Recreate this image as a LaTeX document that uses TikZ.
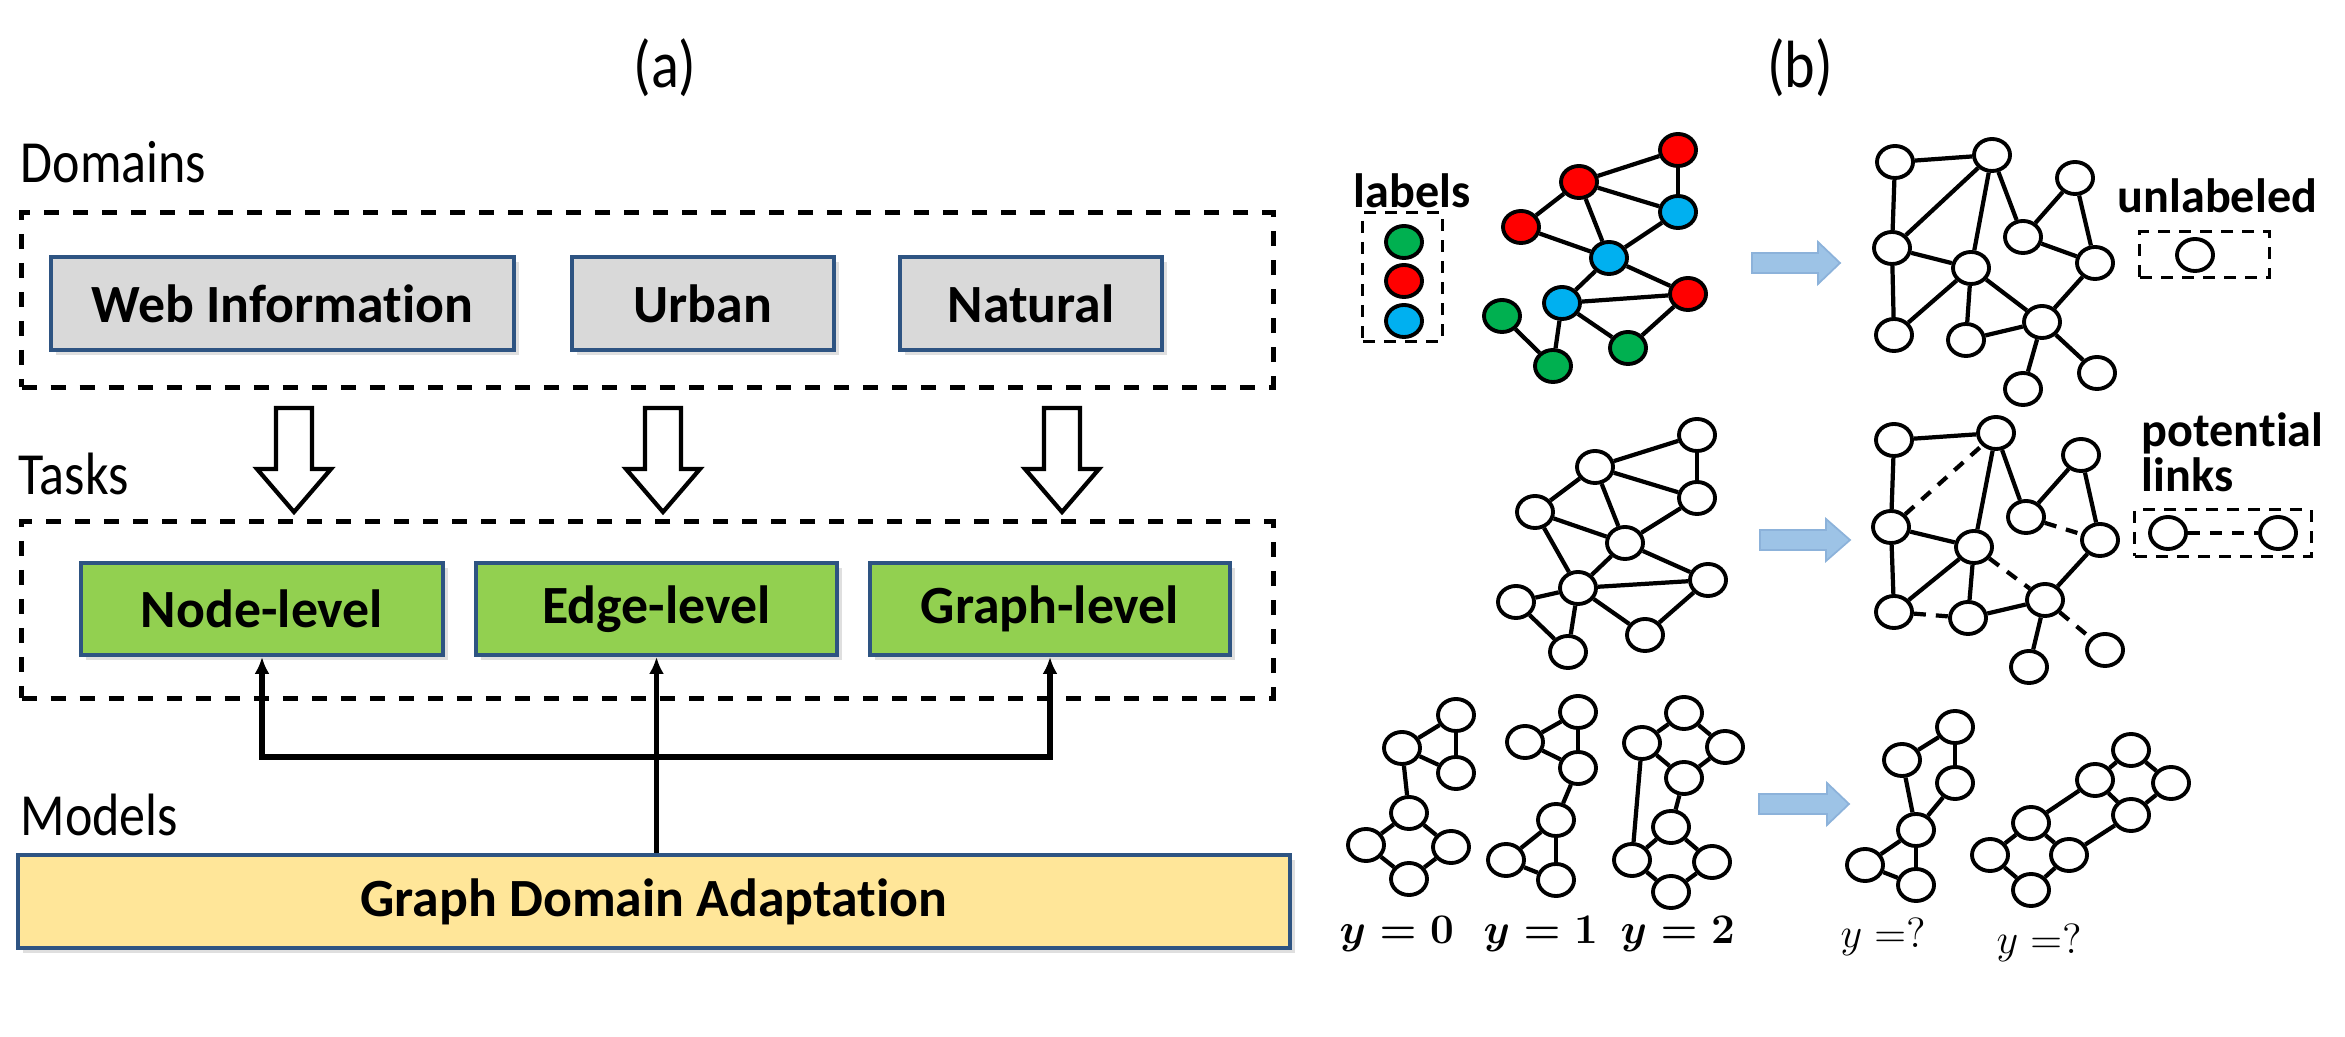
\documentclass[tikz,border=0pt]{standalone}
\usepackage[no-math]{fontspec}
\setmainfont{Carlito}[Ligatures=NoCommon]
\newfontfamily\headfont{Carlito}[FakeStretch=0.87, Ligatures=NoCommon]
\usepackage{amsmath}
\usepackage{xcolor}
\usetikzlibrary{arrows.meta}
\usetikzlibrary{calc}
\usetikzlibrary{positioning}
\usetikzlibrary{shapes.geometric}
\usetikzlibrary{shadows}

\definecolor{boxblue}{RGB}{46,84,130}
\definecolor{boxgray}{RGB}{217,217,217}
\definecolor{boxgreen}{RGB}{146,208,80}
\definecolor{boxyellow}{RGB}{255,230,153}
\definecolor{gred}{RGB}{255,0,0}
\definecolor{gblue}{RGB}{0,176,240}
\definecolor{ggreen}{RGB}{0,176,80}
\definecolor{flowblue}{RGB}{157,195,230}
\definecolor{flowedge}{RGB}{140,178,218}

\tikzset{
  panel/.style={inner sep=0pt, font=\headfont\fontsize{19}{22}\selectfont},
  heading/.style={anchor=base west, inner sep=0pt, font=\headfont\fontsize{17}{20}\selectfont},
  tag/.style={anchor=base west, inner sep=0pt, font=\bfseries\fontsize{13.7}{16}\selectfont},
  ylab/.style={anchor=base west, inner sep=0pt, font=\fontsize{12.5}{14}\selectfont},
  block/.style={draw=boxblue, line width=1.1pt, minimum height=0.93cm, inner sep=0pt,
    font=\bfseries\fontsize{15.3}{18}\selectfont,
    drop shadow={opacity=0.25, shadow xshift=0.05cm, shadow yshift=-0.05cm}},
  frame/.style={draw, line width=1.4pt, dash pattern=on 0.15cm off 0.14cm, inner sep=0pt},
  legend/.style={draw, line width=0.85pt, dash pattern=on 0.12cm off 0.09cm, inner sep=0pt},
  hollow/.style={draw, line width=1.2pt, fill=white, line join=miter},
  link/.style={line width=1.7pt, {Latex[length=0.17cm,width=0.15cm]}-{Latex[length=0.17cm,width=0.15cm]}},
  vert/.style={ellipse, draw, line width=1.1pt, minimum width=0.36cm, minimum height=0.32cm, inner sep=0pt, fill=white},
  gedge/.style={line width=1.2pt},
  guess/.style={line width=1.2pt, dash pattern=on 0.12cm off 0.1cm},
  flow/.style={fill=flowblue, draw=flowedge, line width=0.5pt}
}

\begin{document}
\begin{tikzpicture}[x=0.01cm, y=-0.01cm]
  \useasboundingbox (0,0) rectangle (2345,1037);

  % ---------- (a) ----------
  \node[panel] (pa) at (665,68) {(a)};
  \node[heading] (domlbl) at (20,183) {Domains};
  \node[heading] (tasklbl) at (18,495) {Tasks};
  \node[heading] (modlbl) at (20,836) {Models};

  \node[frame, minimum width=12.51cm, minimum height=1.74cm] (domains) at (647.5,300) {};
  \node[frame, minimum width=12.51cm, minimum height=1.76cm] (tasks) at (647.5,610) {};

  \node[block, fill=boxgray, minimum width=4.63cm] (web) at (282.5,303.5) {Web Information};
  \node[block, fill=boxgray, minimum width=2.62cm] (urban) at (703,303.5) {Urban};
  \node[block, fill=boxgray, minimum width=2.62cm] (natural) at (1031,303.5) {Natural};

  \node[block, fill=boxgreen, minimum width=3.62cm, minimum height=0.92cm] (nodelvl) at (262,609) {Node-level};
  \node[block, fill=boxgreen, minimum width=3.61cm, minimum height=0.92cm] (edgelvl) at (656.5,609) {Edge-level};
  \node[block, fill=boxgreen, minimum width=3.60cm, minimum height=0.92cm] (graphlvl) at (1050,609) {Graph-level};

  \node[block, fill=boxyellow, minimum width=12.72cm] (gda) at (654,901.5) {Graph Domain Adaptation};

  % hollow arrows domains -> tasks
  \foreach \x in {294,663,1062}
    \draw[hollow] (\x-18,408) -- (\x+18,408) -- (\x+18,469) -- (\x+37,469)
      -- (\x,512) -- (\x-37,469) -- (\x-18,469) -- cycle;

  \coordinate (split) at (656.5,757);
  \draw[link, {Latex[length=0.17cm,width=0.15cm]}-] (edgelvl.south) -- (gda.north -| edgelvl.south);
  \draw[link] (nodelvl.south) -- (split -| nodelvl.south) -- (split -| graphlvl.south) -- (graphlvl.south);

  % ---------- (b) ----------
  \node[panel] (pb) at (1800,68) {(b)};

  % labelled source graph
  \node[tag] (lbl) at (1353,208) {labels};
  \node[legend, minimum width=0.79cm, minimum height=1.28cm] (lblbox) at (1402.5,277) {};
  \foreach \n/\ypos/\col in {kg/242/ggreen, kr/281/gred, kb/321/gblue}
    \node[vert, fill=\col] (\n) at (1404,\ypos) {};

  \foreach \n/\xpos/\ypos/\col in {s1/1678/150/gred, s2/1579/182/gred, s3/1678/212/gblue,
      s4/1521/227/gred, s5/1609/258/gblue, s6/1688/294/gred, s7/1562/303/gblue,
      s8/1502/316/ggreen, s9/1628/348/ggreen, s10/1553/366/ggreen}
    \node[vert, fill=\col] (\n) at (\xpos,\ypos) {};
  \foreach \u/\v in {s1/s2, s1/s3, s2/s3, s2/s4, s2/s5, s4/s5, s3/s5, s5/s7,
      s5/s6, s7/s6, s7/s9, s6/s9, s7/s10, s8/s10}
    \draw[gedge] (\u) -- (\v);

  % unlabelled target graph
  \foreach \n/\xpos/\ypos in {t1/1895/162, t2/1992/155, t3/2075/178, t4/1892/248,
      t5/2023/237, t6/1971/268, t7/2095/263, t8/1894/335, t9/1966/340,
      t10/2042/322, t11/2023/389, t12/2097/373}
    \node[vert] (\n) at (\xpos,\ypos) {};
  \foreach \u/\v in {t1/t2, t1/t4, t4/t2, t2/t6, t2/t5, t5/t3, t3/t7, t5/t7,
      t4/t6, t4/t8, t6/t8, t6/t9, t6/t10, t9/t10, t7/t10, t10/t11, t10/t12}
    \draw[gedge] (\u) -- (\v);

  \node[tag] (unl) at (2117,213) {unlabeled};
  \node[legend, minimum width=1.29cm, minimum height=0.45cm] (unlbox) at (2204.5,254.5) {};
  \node[vert] (ku) at (2195,255) {};

  % link prediction
  \foreach \n/\xpos/\ypos in {m1/1697/435, m2/1595/467, m3/1697/498, m4/1535/512,
      m5/1625/543, m6/1708/580, m7/1578/588, m8/1516/602, m9/1645/635, m10/1568/652}
    \node[vert] (\n) at (\xpos,\ypos) {};
  \foreach \u/\v in {m2/m1, m1/m3, m2/m3, m2/m4, m2/m5, m4/m5, m3/m5, m4/m7,
      m5/m6, m5/m7, m7/m6, m7/m8, m7/m9, m6/m9, m7/m10, m8/m10}
    \draw[gedge] (\u) -- (\v);

  \foreach \n/\xpos/\ypos in {p1/1894/440, p2/1996/433, p3/2081/455, p4/1891/527,
      p5/2026/517, p6/1974/547, p7/2100/540, p8/1894/612, p9/1968/618,
      p10/2045/600, p11/2029/667, p12/2105/650}
    \node[vert] (\n) at (\xpos,\ypos) {};
  \foreach \u/\v in {p1/p2, p1/p4, p2/p6, p2/p5, p5/p3, p3/p7, p4/p6, p4/p8,
      p6/p8, p6/p9, p9/p10, p7/p10, p10/p11}
    \draw[gedge] (\u) -- (\v);
  \foreach \u/\v in {p4/p2, p5/p7, p6/p10, p8/p9, p10/p12}
    \draw[guess] (\u) -- (\v);

  \node[tag] (pot) at (2141,447) {potential};
  \node[tag] (lnk) at (2141,492) {links};
  \node[legend, minimum width=1.76cm, minimum height=0.46cm] (potbox) at (2223,533) {};
  \node[vert] (kl) at (2168,533) {};
  \node[vert] (kr2) at (2278,533) {};
  \draw[guess] (kl) -- (kr2);

  % graph classification
  \foreach \n/\xpos/\ypos in {a1/1456/715, a2/1402/748, a3/1456/773, a4/1409/813,
      a5/1366/845, a6/1451/847, a7/1409/879,
      b1/1578/712, b2/1525/742, b3/1578/768, b4/1556/820, b5/1506/860, b6/1556/880,
      c1/1684/713, c2/1642/743, c3/1725/747, c4/1684/778, c5/1671/827,
      c6/1632/860, c7/1712/862, c8/1671/892,
      d1/1955/727, d2/1902/760, d3/1955/783, d4/1916/830, d5/1865/865, d6/1916/885,
      e1/2131/750, e2/2095/780, e3/2171/783, e4/2131/815, e5/2031/823,
      e6/1990/855, e7/2069/855, e8/2031/890}
    \node[vert] (\n) at (\xpos,\ypos) {};
  \foreach \u/\v in {a2/a1, a1/a3, a2/a3, a2/a4, a4/a5, a4/a6, a5/a7, a6/a7,
      b2/b1, b1/b3, b2/b3, b3/b4, b4/b5, b4/b6, b5/b6,
      c2/c1, c1/c3, c2/c4, c3/c4, c4/c5, c2/c6, c5/c6, c5/c7, c6/c8, c7/c8,
      d2/d1, d1/d3, d2/d4, d3/d4, d4/d5, d4/d6, d5/d6,
      e2/e1, e1/e3, e2/e4, e3/e4, e2/e5, e4/e7, e5/e6, e5/e7, e6/e8, e7/e8}
    \draw[gedge] (\u) -- (\v);

  \node[ylab] (lab0) at (1339,943) {$\boldsymbol{y=0}$};
  \node[ylab] (lab1) at (1483,943) {$\boldsymbol{y=1}$};
  \node[ylab] (lab2) at (1620,943) {$\boldsymbol{y=2}$};
  \node[ylab] (labq1) at (1840,947) {$y\;{=}?$};
  \node[ylab] (labq2) at (1996,953) {$y\;{=}?$};

  % transfer arrows
  \foreach \xa/\xb/\xc/\yc in {1752/1818/1840/263, 1760/1826/1850/540, 1759/1827/1849/804}
    \draw[flow] (\xa,\yc-10) -- (\xb,\yc-10) -- (\xb,\yc-21) -- (\xc,\yc)
      -- (\xb,\yc+21) -- (\xb,\yc+10) -- (\xa,\yc+10) -- cycle;
\end{tikzpicture}
\end{document}
